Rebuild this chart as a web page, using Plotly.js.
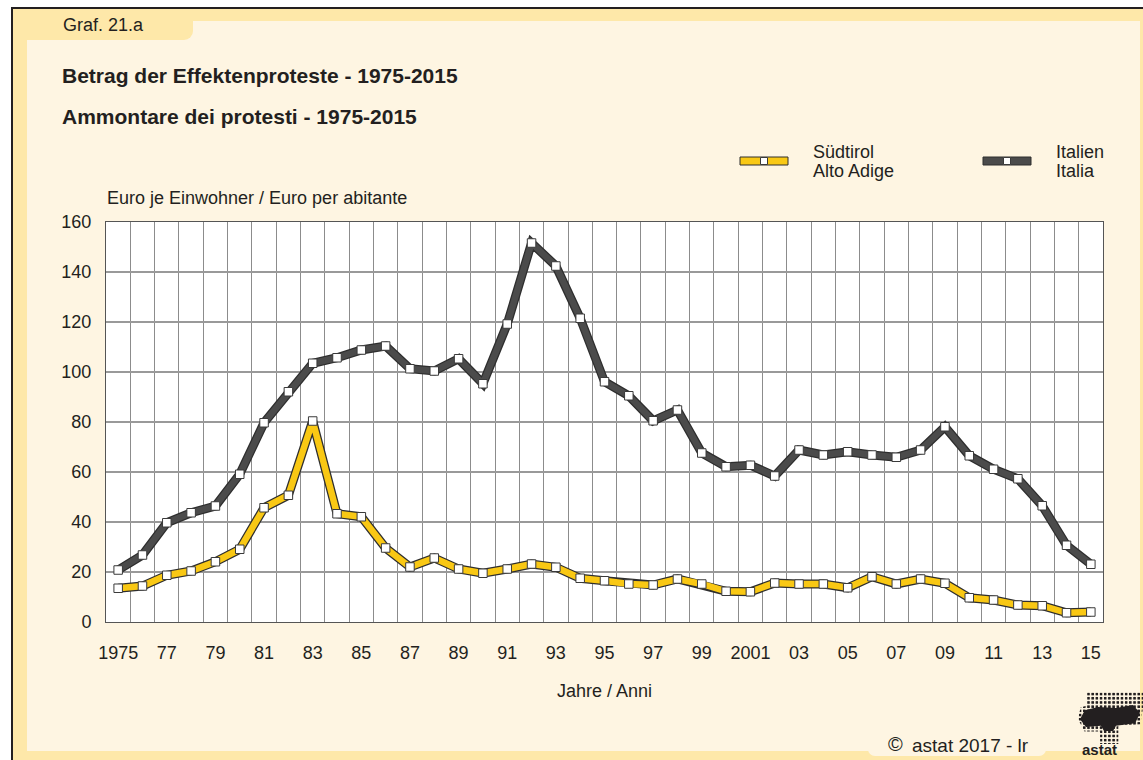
<!DOCTYPE html>
<html>
<head>
<meta charset="utf-8">
<script src="https://cdn.plot.ly/plotly-3.0.1.min.js"></script>
<style>
  html, body { margin: 0; padding: 0; background: #ffffff; }
  #wrap { position: relative; width: 1143px; height: 760px; overflow: hidden; font-family: "Liberation Sans", Arial, sans-serif; }
  .abs { position: absolute; }
  #frame { left: 11px; top: 7px; width: 1132px; height: 753px; background: #fee8a9; border-top: 2px solid #231f20; border-left: 2px solid #231f20; box-sizing: border-box; }
  #inner { left: 27px; top: 21px; width: 1113px; height: 730px; background: #fef5e2; }
  #tab { left: 27px; top: 21px; width: 166px; height: 19px; background: #fee8a9; border-bottom-right-radius: 9px; }
  #ctab { left: 868px; top: 740px; width: 178px; height: 16px; background: #fef5e2; border-bottom-left-radius: 7px; border-bottom-right-radius: 7px; }
  #logo { left: 1078px; top: 692px; width: 65px; height: 52px;
          background-image: radial-gradient(circle, #231f20 1.3px, rgba(0,0,0,0) 1.7px);
          background-size: 4.2px 4.2px;
          clip-path: polygon(14% 0%, 100% 0%, 100% 30%, 96% 62%, 62% 66%, 62% 100%, 34% 100%, 34% 76%, 10% 76%, 0% 52%, 4% 30%, 14% 26%); }
  #logo2 { left: 1080px; top: 705px; width: 60px; height: 26px; background: #231f20;
           clip-path: polygon(8% 20%, 30% 8%, 60% 12%, 88% 0%, 100% 30%, 92% 70%, 60% 80%, 55% 100%, 40% 100%, 35% 80%, 10% 85%, 0% 55%); }
  #chart { left: 0; top: 0; width: 1143px; height: 760px; }
</style>
</head>
<body>
<div id="wrap">
  <div id="frame" class="abs"></div>
  <div id="inner" class="abs"></div>
  <div id="tab" class="abs"></div>
  <div id="ctab" class="abs"></div>
  <div id="logo" class="abs"></div>
  <div id="logo2" class="abs"></div>
  <div id="chart" class="abs"></div>
</div>
<script>
// ---- data ----
const years = [1975,1976,1977,1978,1979,1980,1981,1982,1983,1984,1985,1986,1987,1988,1989,
               1990,1991,1992,1993,1994,1995,1996,1997,1998,1999,2000,2001,2002,
               2003,2004,2005,2006,2007,2008,2009,2010,2011,2012,2013,2014,2015];
const suedtirol = [13.5,14.4,18.7,20.4,24.1,29.1,45.7,50.7,80.4,43.3,42.1,29.6,22.0,25.6,21.2,
                   19.5,21.2,23.2,21.9,17.5,16.5,15.2,14.8,17.2,15.2,12.3,12.1,15.6,
                   15.2,15.2,13.7,18.1,15.2,17.2,15.5,9.7,8.8,6.8,6.5,3.7,4.0];
const italia = [20.8,26.8,39.7,43.7,46.4,59.1,79.7,92.1,103.5,105.7,108.8,110.4,101.3,100.4,105.3,
                95.3,119.2,151.6,142.4,121.5,96.1,90.5,80.5,84.8,67.6,62.1,62.7,58.4,
                68.8,66.8,68.1,66.8,65.9,68.8,78.1,66.5,61.1,57.3,46.5,30.7,23.1];
const tickYears = [1975,1977,1979,1981,1983,1985,1987,1989,1991,1993,1995,1997,1999,2001,2003,2005,2007,2009,2011,2013,2015];
const tickLabels = ['1975','77','79','81','83','85','87','89','91','93','95','97','99','2001','03','05','07','09','11','13','15'];
const seriesNames = ['Südtirol', 'Alto Adige', 'Italien', 'Italia'];

// ---- styles ----
const YELLOW = '#f9c814';
const DARK = '#4b4b4b';
const OUTLINE = '#2e2e2e';
const FONT = 'Liberation Sans, Arial, sans-serif';

// plot area in pixels
const L = 106, R = 1103, T = 222, B = 622;
const X = px => (px - L) / (R - L);
const Y = py => (B - py) / (B - T);

function outlineTrace(y) {
  return { x: years, y: y, type: 'scatter', mode: 'lines', hoverinfo: 'skip', showlegend: false,
           line: { color: OUTLINE, width: 9 } };
}
function mainTrace(y, color, name) {
  return { x: years, y: y, type: 'scatter', mode: 'lines+markers', name: name, showlegend: false,
           line: { color: color, width: 6.5 },
           marker: { symbol: 'square', size: 8.5, color: '#ffffff', line: { color: '#3a3a3a', width: 1 } } };
}

const data = [
  outlineTrace(italia), mainTrace(italia, DARK, 'Italien / Italia'),
  outlineTrace(suedtirol), mainTrace(suedtirol, YELLOW, 'Südtirol / Alto Adige')
];

function txt(text, px, py, size, opts) {
  return Object.assign({ text: text, xref: 'paper', yref: 'paper', x: X(px), y: Y(py),
    xanchor: 'left', yanchor: 'middle', showarrow: false,
    font: { family: FONT, size: size, color: '#231f20' } }, opts || {});
}

const annotations = [
  txt('Graf. 21.a', 61, 25, 18),
  txt('<b>Betrag der Effektenproteste - 1975-2015</b>', 60, 75, 21),
  txt('<b>Ammontare dei protesti - 1975-2015</b>', 60, 116, 21),
  txt('Euro je Einwohner / Euro per abitante', 105, 198, 18),
  txt(seriesNames[0], 811, 152, 18),
  txt(seriesNames[1], 811, 171, 18),
  txt(seriesNames[2], 1054, 152, 18),
  txt(seriesNames[3], 1054, 171, 18),
  txt('©', 886, 744, 20),
  txt('astat 2017 - lr', 910, 745, 19),
  txt('<b>astat</b>', 1080, 749, 15)
];

function legendSym(x0, x1, yc, color) {
  const cx = (x0 + x1) / 2;
  return [
    { type: 'rect', xref: 'paper', yref: 'paper', x0: X(x0), x1: X(x1), y0: Y(yc + 4), y1: Y(yc - 4),
      fillcolor: color, line: { color: OUTLINE, width: 1 } },
    { type: 'rect', xref: 'paper', yref: 'paper', x0: X(cx - 3.5), x1: X(cx + 3.5), y0: Y(yc + 3.5), y1: Y(yc - 3.5),
      fillcolor: '#ffffff', line: { color: '#3a3a3a', width: 1 } }
  ];
}

const layout = {
  width: 1143, height: 760,
  margin: { l: L, r: 1143 - R, t: T, b: 760 - B, pad: 0 },
  paper_bgcolor: 'rgba(0,0,0,0)',
  plot_bgcolor: '#ffffff',
  showlegend: false,
  font: { family: FONT, size: 18, color: '#231f20' },
  xaxis: {
    range: [1974.5, 2015.5], fixedrange: true,
    tickmode: 'array', tickvals: tickYears, ticktext: tickLabels,
    showgrid: false, zeroline: false,
    ticks: 'outside', ticklen: 14, tickcolor: 'rgba(0,0,0,0)',
    tickfont: { family: FONT, size: 18, color: '#231f20' },
    minor: { tickmode: 'linear', tick0: 1974.5, dtick: 1, showgrid: true, gridcolor: '#8c8c8c', gridwidth: 1, ticks: '' },
    showline: true, mirror: true, linecolor: '#555555', linewidth: 1,
    title: { text: 'Jahre / Anni', font: { family: FONT, size: 18, color: '#231f20' }, standoff: 22 }
  },
  yaxis: {
    range: [0, 160], fixedrange: true,
    tickmode: 'linear', tick0: 0, dtick: 20,
    showgrid: true, gridcolor: '#999999', gridwidth: 1.2, zeroline: false,
    ticks: 'outside', ticklen: 10, tickcolor: 'rgba(0,0,0,0)',
    tickfont: { family: FONT, size: 18, color: '#231f20' },
    showline: true, mirror: true, linecolor: '#555555', linewidth: 1
  },
  annotations: annotations,
  shapes: [].concat(legendSym(740, 788, 161, YELLOW), legendSym(983, 1031, 161, DARK))
};

Plotly.newPlot('chart', data, layout, { staticPlot: true, displayModeBar: false });
</script>
</body>
</html>
